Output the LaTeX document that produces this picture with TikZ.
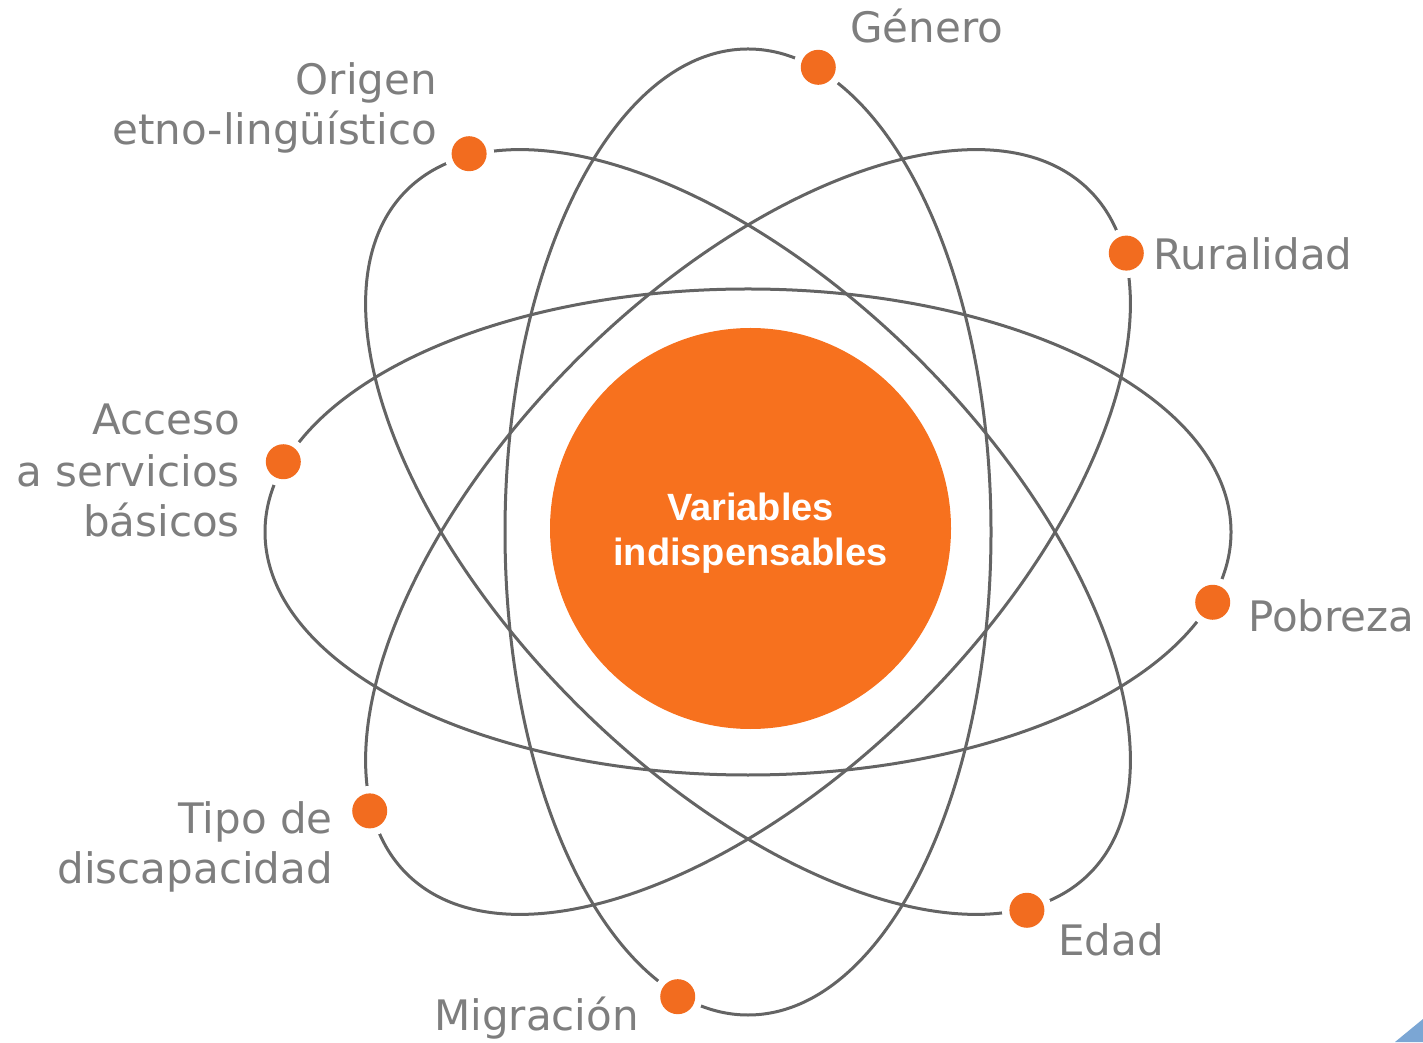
\documentclass[tikz,border=0pt]{standalone}
\usepackage{fontspec}
\usetikzlibrary{calc}
\setmainfont{DejaVu Sans}
\newfontfamily\centerfont{Liberation Sans}
\definecolor{orb}{HTML}{646464}
\definecolor{dotor}{HTML}{F26C1F}
\definecolor{coreor}{HTML}{F7711E}
\definecolor{labgray}{HTML}{7E7E7E}
\definecolor{cornerblue}{HTML}{7BA6D4}
\begin{document}
\begin{tikzpicture}[x=1pt,y=1pt,
  orbit/.style={draw=orb,line width=3pt},
  halo/.style={circle,fill=white,minimum size=50pt,inner sep=0pt},
  dotnode/.style={circle,fill=dotor,minimum size=35pt,inner sep=0pt},
  lab/.style={text=labgray,inner sep=0pt,font=\fontsize{42}{51}\selectfont},
  core/.style={circle,fill=coreor,minimum size=401pt,inner sep=0pt}]
\useasboundingbox (0,0) rectangle (1423,1042);
\coordinate (C) at (748,510);
% orbits
\foreach \r in {0,45,90,135}
  \draw[orbit] (C) ellipse [x radius=483, y radius=243, rotate=\r];
% core
\node[core] (core) at (750.5,513.5) {};
\node[text=white,align=center,font=\centerfont\bfseries\fontsize{38}{45}\selectfont] (coretext) at ($(core.center)+(0,-5)$) {Variables\\indispensables};
% dots
\foreach \n/\a in {pob/-8.6,rur/36.4,gen/81.4,ori/126.4,acc/171.4,tip/216.4,mig/261.4,eda/306.4}{
  \node[halo] (h\n) at ($(C)+(\a:470)$) {};
  \node[dotnode] (d\n) at (h\n.center) {};
}
% labels
\node[lab,anchor=base west] (lgen) at (850,999) {Género};
\node[lab,anchor=base east] (lori1) at (437,947) {Origen};
\node[lab,anchor=base east] (lori2) at (437,897) {etno-lingüístico};
\node[lab,anchor=base west] (lrur) at (1153,772) {Ruralidad};
\node[lab,anchor=base east] (lacc1) at (240,607) {Acceso};
\node[lab,anchor=base east] (lacc2) at (240,555) {a servicios};
\node[lab,anchor=base east] (lacc3) at (240,505) {básicos};
\node[lab,anchor=base west] (lpob) at (1248,410) {Pobreza};
\node[lab,anchor=base east] (ltip1) at (333,209) {Tipo de};
\node[lab,anchor=base east] (ltip2) at (333,159) {discapacidad};
\node[lab,anchor=base west] (leda) at (1058,87) {Edad};
\node[lab,anchor=base west] (lmig) at (434,12) {Migración};
% corner mark
\fill[cornerblue] (1395,0) -- (1423,23) -- (1423,0) -- cycle;
\end{tikzpicture}
\end{document}
